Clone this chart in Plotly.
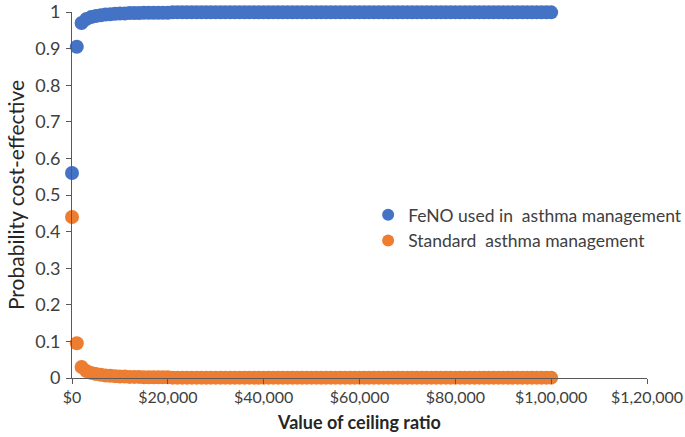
import plotly.graph_objects as go

ceiling = list(range(0, 101000, 1000))

feno = [0.56, 0.905, 0.97, 0.981, 0.986, 0.989, 0.991, 0.993, 0.994, 0.995,
        0.996, 0.996, 0.997, 0.997, 0.997, 0.998, 0.998, 0.998, 0.998, 0.998,
        0.998, 0.999, 0.999, 0.999, 0.999, 0.999, 0.999, 0.999, 0.999, 0.999,
        0.999, 0.999, 0.999, 0.999, 0.999, 0.999, 0.999, 0.999, 0.999, 0.999,
        0.999, 0.999, 0.999, 0.999, 0.999, 0.999, 0.999, 0.999, 0.999, 0.999,
        0.999, 0.999, 0.999, 0.999, 0.999, 0.999, 0.999, 0.999, 0.999, 0.999,
        0.999, 0.999, 0.999, 0.999, 0.999, 0.999, 0.999, 0.999, 0.999, 0.999,
        0.999, 0.999, 0.999, 0.999, 0.999, 0.999, 0.999, 0.999, 0.999, 0.999,
        0.999, 0.999, 0.999, 0.999, 0.999, 0.999, 0.999, 0.999, 0.999, 0.999,
        0.999, 0.999, 0.999, 0.999, 0.999, 0.999, 0.999, 0.999, 0.999, 0.999,
        0.999]

standard = [0.44, 0.095, 0.03, 0.019, 0.014, 0.011, 0.009, 0.007, 0.006, 0.005,
            0.004, 0.004, 0.003, 0.003, 0.003, 0.002, 0.002, 0.002, 0.002, 0.002,
            0.002, 0.001, 0.001, 0.001, 0.001, 0.001, 0.001, 0.001, 0.001, 0.001,
            0.001, 0.001, 0.001, 0.001, 0.001, 0.001, 0.001, 0.001, 0.001, 0.001,
            0.001, 0.001, 0.001, 0.001, 0.001, 0.001, 0.001, 0.001, 0.001, 0.001,
            0.001, 0.001, 0.001, 0.001, 0.001, 0.001, 0.001, 0.001, 0.001, 0.001,
            0.001, 0.001, 0.001, 0.001, 0.001, 0.001, 0.001, 0.001, 0.001, 0.001,
            0.001, 0.001, 0.001, 0.001, 0.001, 0.001, 0.001, 0.001, 0.001, 0.001,
            0.001, 0.001, 0.001, 0.001, 0.001, 0.001, 0.001, 0.001, 0.001, 0.001,
            0.001, 0.001, 0.001, 0.001, 0.001, 0.001, 0.001, 0.001, 0.001, 0.001,
            0.001]

x_tick_vals = [0, 20000, 40000, 60000, 80000, 100000, 120000]
x_tick_text = ["$0", "$20,000", "$40,000", "$60,000", "$80,000", "$1,00,000", "$1,20,000"]
y_tick_vals = [0, 0.1, 0.2, 0.3, 0.4, 0.5, 0.6, 0.7, 0.8, 0.9, 1]

FONT = "Lato, Open Sans, sans-serif"
TXT = "#404040"

fig = go.Figure()
fig.add_trace(go.Scatter(x=ceiling, y=feno, mode="markers",
                         name="FeNO used in  asthma management",
                         marker=dict(color="#4472C4", size=14, line=dict(width=0)),
                         cliponaxis=False))
fig.add_trace(go.Scatter(x=ceiling, y=standard, mode="markers",
                         name="Standard  asthma management",
                         marker=dict(color="#ED7D31", size=14, line=dict(width=0)),
                         cliponaxis=False))

fig.update_layout(
    width=685, height=437,
    margin=dict(l=72, r=38, t=12, b=59, autoexpand=False),
    paper_bgcolor="white", plot_bgcolor="white",
    font=dict(family=FONT, size=18, color=TXT),
    showlegend=True,
    legend=dict(x=0.515, y=0.41, xanchor="left", yanchor="middle",
                bgcolor="rgba(0,0,0,0)", itemsizing="constant",
                font=dict(family=FONT, size=17.5, color=TXT),
                tracegroupgap=6, itemwidth=30),
    xaxis=dict(range=[0, 120000], tickvals=x_tick_vals, ticktext=x_tick_text,
               showgrid=False, zeroline=False, showline=True, linecolor="#595959",
               linewidth=1, ticks="outside", ticklen=5, tickcolor="#595959",
               automargin=False, tickangle=0, tickfont=dict(size=16),
               ticklabeloverflow="allow",
               title=dict(text="<b>Value of ceiling ratio</b>",
                          font=dict(family=FONT, size=18, color="#262626"), standoff=11)),
    yaxis=dict(range=[0, 1], tickvals=y_tick_vals, showgrid=False, zeroline=False,
               showline=True, linecolor="#595959", linewidth=1, ticks="outside",
               ticklen=5, tickcolor="#595959", automargin=False, tickfont=dict(size=18),
               ticklabelstandoff=2, ticklabeloverflow="allow",
               title=dict(text="Probability cost-effective",
                          font=dict(family=FONT, size=21, color="#262626"), standoff=4)),
)

fig.write_html("out.html", config={"displayModeBar": False},
               post_script="document.body.style.margin='0';")
